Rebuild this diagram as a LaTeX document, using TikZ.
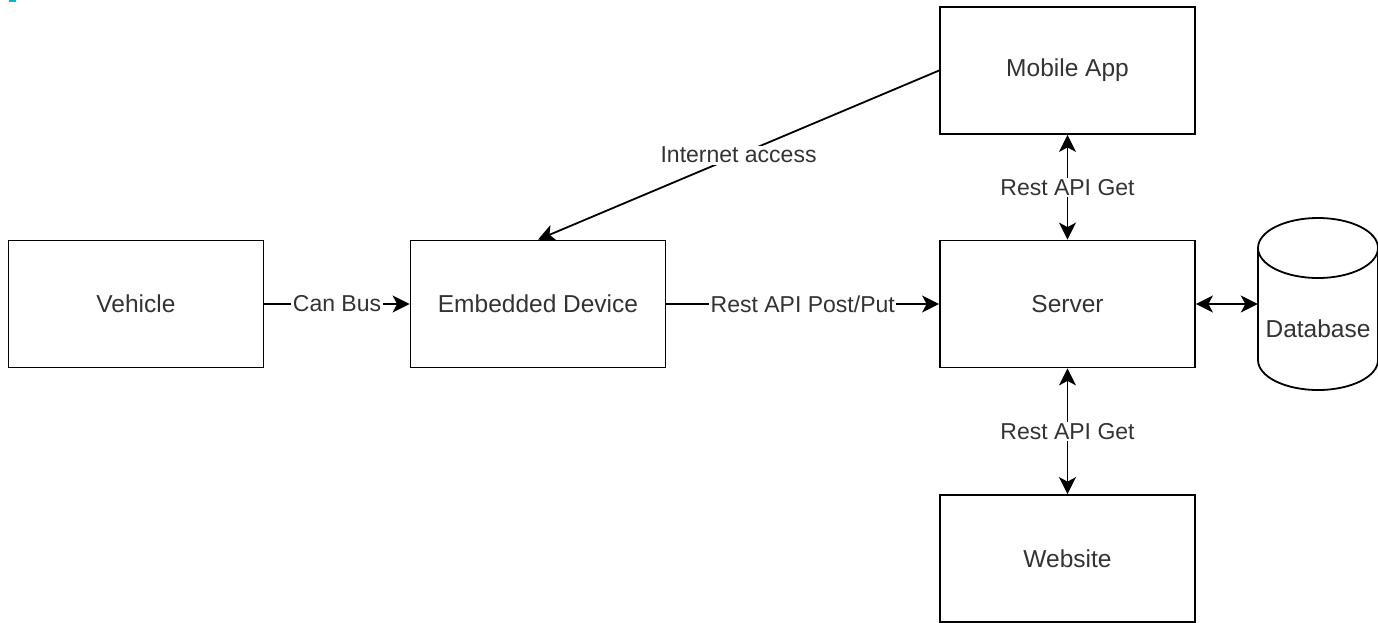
\documentclass[tikz,border=0pt]{standalone}
\usepackage{fontspec}
\setmainfont{Liberation Sans}
\usetikzlibrary{arrows.meta}
\begin{document}
\begin{tikzpicture}[x=1pt,y=1pt,
  box/.style={draw, line width=1.8pt, minimum width=255pt, minimum height=127pt, inner sep=0pt, font=\fontsize{24.5}{28}\selectfont, text=black!80},
  lbl/.style={fill=white, inner sep=1.5pt, font=\fontsize{23}{26}\selectfont, text=black!80},
  conn/.style={line width=1.8pt},
  arr/.style={-{Stealth[length=17pt,width=17pt,inset=4.5pt]}},
  biarr/.style={{Stealth[length=17pt,width=17pt,inset=4.5pt]}-{Stealth[length=17pt,width=17pt,inset=4.5pt]}}]
\useasboundingbox (0,0) rectangle (1378,-622);
\fill[fill={rgb,255:red,0;green,180;blue,210}] (9,0) rectangle (16,-1.5);
\node[box] (veh) at (136,-304) {Vehicle};
\node[box] (emb) at (538,-304) {Embedded Device};
\node[box] (srv) at (1067.5,-304) {Server};
\node[box] (mob) at (1067.5,-70.5) {Mobile App};
\node[box] (web) at (1067.5,-558.5) {Website};
\node[draw=none, minimum width=120pt, minimum height=172pt, inner sep=0pt] (db) at (1318,-304) {};
\draw[conn, fill=white] (1258,-248) -- (1258,-360) arc[start angle=180, end angle=360, x radius=60, y radius=30] -- (1378,-248);
\draw[conn, fill=white] (1318,-248) ellipse[x radius=60, y radius=30];
\node[font=\fontsize{24.5}{28}\selectfont, text=black!80] (dbl) at (1318,-329) {Database};
\draw[conn, arr] (veh) -- node[lbl] {Can Bus} (emb);
\draw[conn, arr] (emb) -- node[lbl] {Rest API Post/Put} (srv);
\draw[conn, biarr] (mob) -- node[lbl] {Rest API Get} (srv);
\draw[conn, biarr] (srv) -- node[lbl] {Rest API Get} (web);
\draw[conn, biarr] (srv.east) -- (db.west);
\draw[conn, arr] (mob.west) -- node[lbl] {Internet access} (emb.north);
\end{tikzpicture}
\end{document}
